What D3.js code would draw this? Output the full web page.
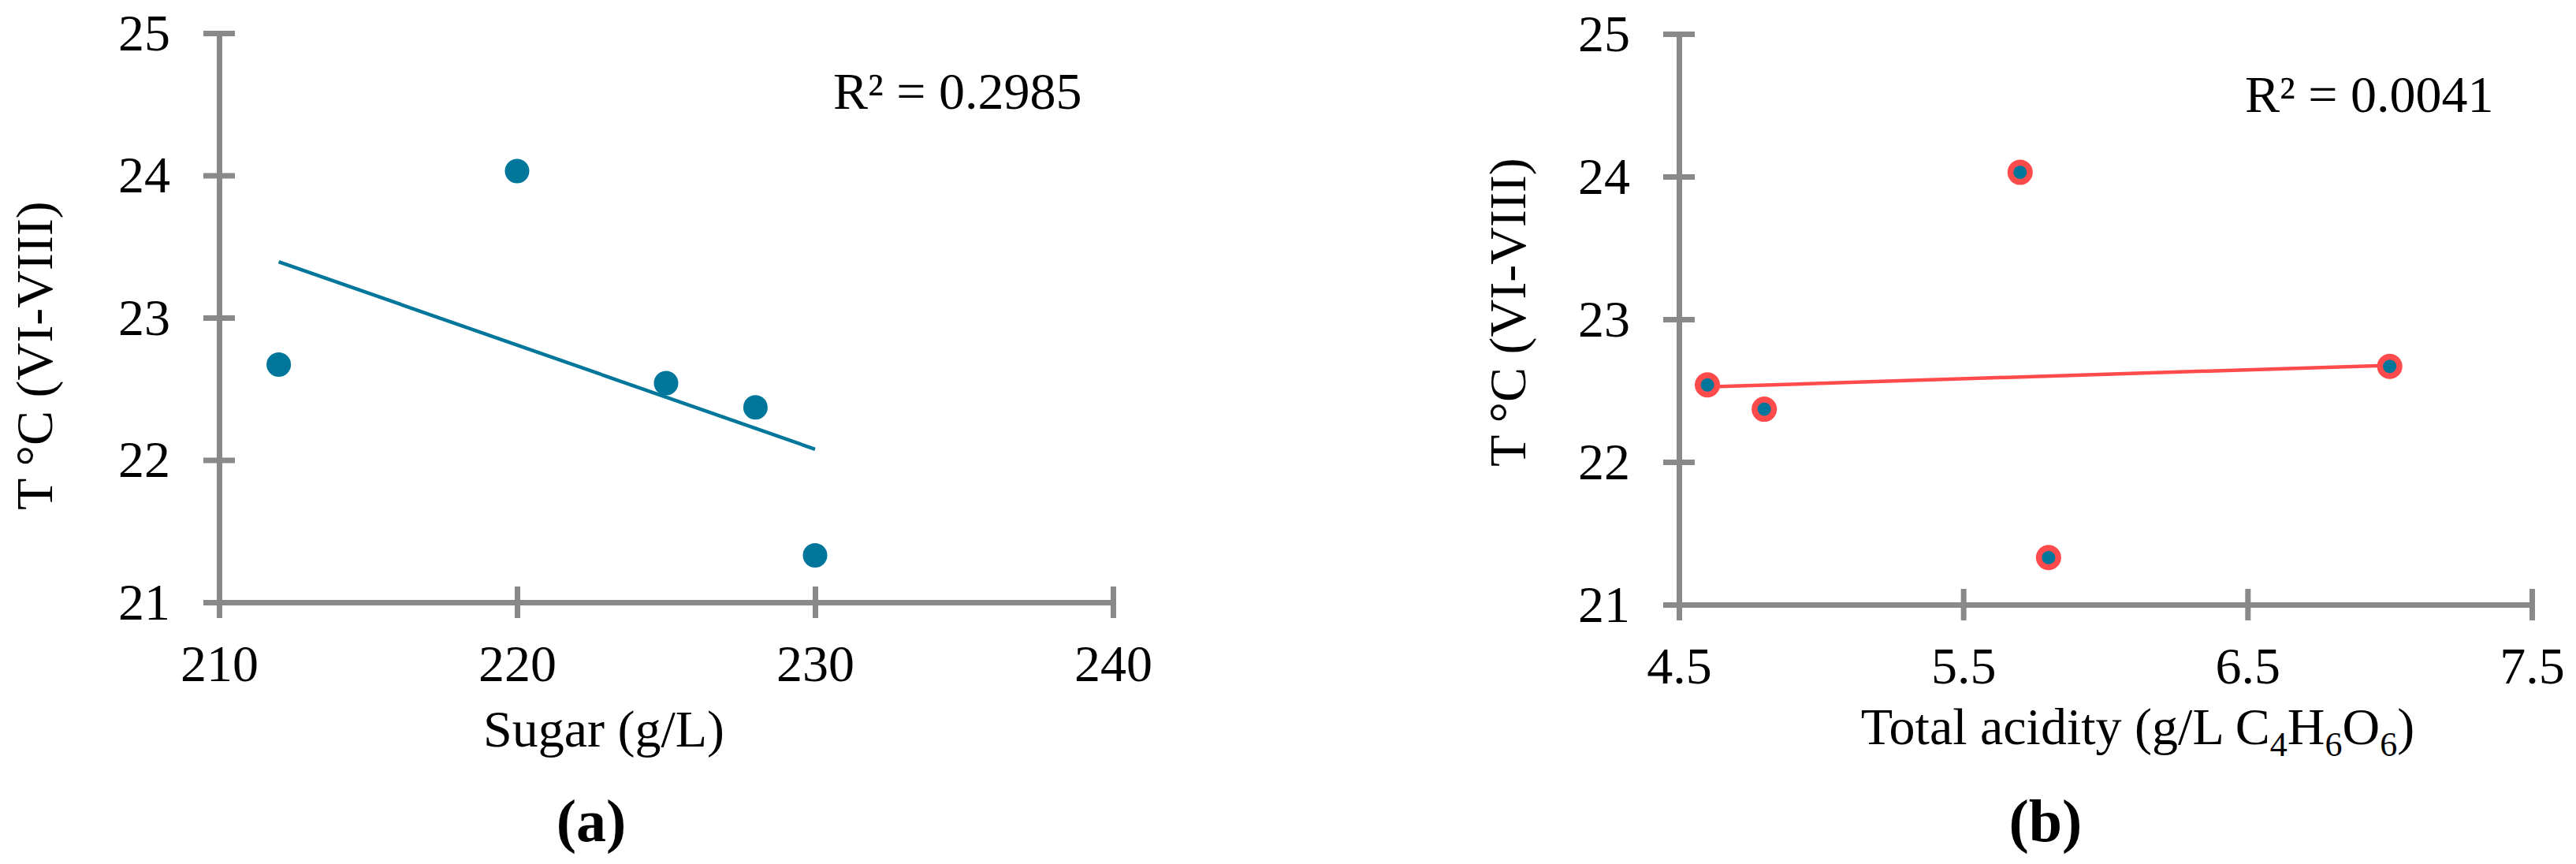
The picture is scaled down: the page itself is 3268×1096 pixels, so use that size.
<!DOCTYPE html>
<html>
<head>
<meta charset="utf-8">
<script src="https://cdn.jsdelivr.net/npm/d3@7"></script>
<style>
  body { margin: 0; background: #fff; }
  text { font-family: "Liberation Serif", "Times New Roman", serif; fill: #000; }
</style>
</head>
<body>
<div id="fig"></div>
<script>
// data
var tempVals = [22.67, 24.03, 22.54, 22.37, 21.33];   // T °C (VI-VIII)
var sugarVals = [212, 220, 225, 228, 230];            // g/L
var acidityVals = [7.0, 5.7, 4.6, 4.8, 5.8];          // g/L C4H6O6
var yTicks = [21, 22, 23, 24, 25];
var sugarTicks = [210, 220, 230, 240];
var acidityTicks = [4.5, 5.5, 6.5, 7.5];
var r2Labels = ["R\u00b2 = 0.2985", "R\u00b2 = 0.0041"];

var TEAL = "#00769b", RED = "#ff4b4b", GREY = "#898989";
var FS = 66;

var svg = d3.select("#fig")
    .append("svg")
    .attr("width", 3268)
    .attr("height", 1096);

// least squares fit, used for the trend lines
function fit(xs, ys) {
    var mx = d3.mean(xs), my = d3.mean(ys);
    var sxy = d3.sum(xs, function(x, i) { return (x - mx) * (ys[i] - my); });
    var sxx = d3.sum(xs, function(x) { return (x - mx) * (x - mx); });
    var b = sxy / sxx;
    return function(x) { return my + b * (x - mx); };
}

function styleAxis(g, horizontal) {
    g.select(".domain").attr("stroke", GREY).attr("stroke-width", 7);
    g.selectAll(".tick line").attr("stroke", GREY).attr("stroke-width", 7);
    if (horizontal) g.selectAll(".tick line").attr("y1", -20);
    else g.selectAll(".tick line").attr("x1", 20);
    g.selectAll(".tick text")
        .attr("font-size", FS)
        .attr("font-family", "Liberation Serif, Times New Roman, serif")
        .attr("fill", "#000");
}

function panel(opt) {
    var x = d3.scaleLinear().domain(opt.xDomain).range(opt.xRange);
    var y = d3.scaleLinear().domain([21, 25]).range(opt.yRange);

    svg.append("g")
        .attr("transform", "translate(0," + opt.yRange[0] + ")")
        .call(d3.axisBottom(x).tickValues(opt.xTicks).tickFormat(opt.xFormat)
            .tickSize(20).tickSizeOuter(0).tickPadding(33))
        .call(styleAxis, true);

    svg.append("g")
        .attr("transform", "translate(" + opt.xRange[0] + ",0)")
        .call(d3.axisLeft(y).tickValues(yTicks).tickFormat(d3.format("d"))
            .tickSize(20).tickSizeOuter(0).tickPadding(42))
        .call(styleAxis, false);

    // trend line
    var f = fit(opt.xs, tempVals);
    var ext = d3.extent(opt.xs);
    svg.append("path")
        .datum(ext)
        .attr("d", d3.line().x(function(d) { return x(d); }).y(function(d) { return y(f(d)); }))
        .attr("stroke", opt.lineColor)
        .attr("stroke-width", 4.5)
        .attr("fill", "none");

    // points
    svg.append("g").selectAll("circle")
        .data(opt.xs.map(function(v, i) { return [v, tempVals[i]]; }))
        .enter().append("circle")
        .attr("cx", function(d) { return x(d[0]); })
        .attr("cy", function(d) { return y(d[1]); })
        .attr("r", opt.ring ? 12.3 : 15.5)
        .attr("fill", TEAL)
        .attr("stroke", opt.ring ? RED : "none")
        .attr("stroke-width", opt.ring ? 7.5 : 0);

    // R² label
    svg.append("text")
        .attr("x", opt.r2x).attr("y", opt.r2y)
        .attr("font-size", FS)
        .text(opt.r2);

    // y title
    svg.append("text")
        .attr("transform", "translate(" + opt.yTitleX + "," + opt.yTitleY + ") rotate(-90)")
        .attr("font-size", FS)
        .text("T \u00b0C (VI-VIII)");

    // panel letter
    svg.append("text")
        .attr("x", opt.letterX).attr("y", 1067)
        .attr("text-anchor", "middle")
        .attr("font-size", 76)
        .attr("font-weight", "bold")
        .text(opt.letter);

    return x;
}

panel({
    xs: sugarVals, xDomain: [210, 240], xRange: [278, 1412], yRange: [764, 42],
    xTicks: sugarTicks, xFormat: d3.format("d"), lineColor: TEAL, ring: false,
    r2: r2Labels[0], r2x: 1057, r2y: 138, yTitleX: 66, yTitleY: 647,
    letter: "(a)", letterX: 750
});

panel({
    xs: acidityVals, xDomain: [4.5, 7.5], xRange: [2130, 3212], yRange: [767, 43],
    xTicks: acidityTicks, xFormat: d3.format(".1f"), lineColor: RED, ring: true,
    r2: r2Labels[1], r2x: 2848, r2y: 142, yTitleX: 1935, yTitleY: 592,
    letter: "(b)", letterX: 2595
});

// x titles
svg.append("text")
    .attr("x", 766).attr("y", 947)
    .attr("text-anchor", "middle")
    .attr("font-size", FS)
    .text("Sugar (g/L)");

var acid = svg.append("text")
    .attr("x", 2712).attr("y", 944)
    .attr("text-anchor", "middle")
    .attr("font-size", FS);
acid.append("tspan").text("Total acidity (g/L C");
acid.append("tspan").attr("font-size", 44).attr("dy", 15).text("4");
acid.append("tspan").attr("dy", -15).text("H");
acid.append("tspan").attr("font-size", 44).attr("dy", 15).text("6");
acid.append("tspan").attr("dy", -15).text("O");
acid.append("tspan").attr("font-size", 44).attr("dy", 15).text("6");
acid.append("tspan").attr("dy", -15).text(")");
</script>
</body>
</html>
